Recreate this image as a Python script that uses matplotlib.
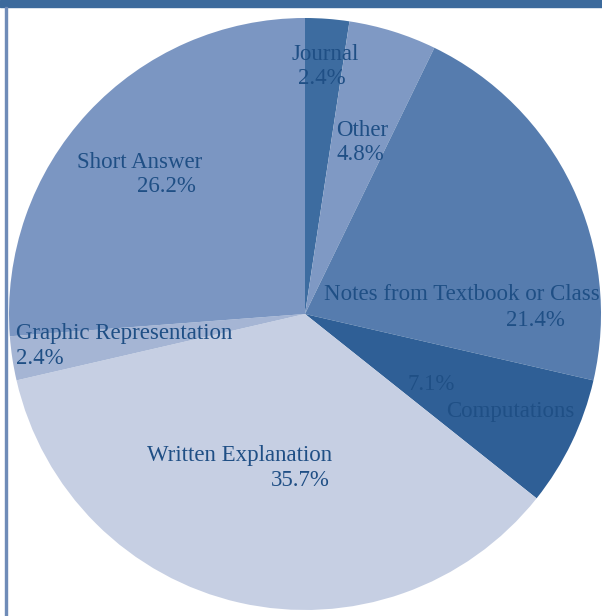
import matplotlib.pyplot as plt
from matplotlib.patches import Rectangle

# slices clockwise from 12 o'clock
labels = ['Journal', 'Other', 'Notes from Textbook or Class', 'Computations',
          'Written Explanation', 'Graphic Representation', 'Short Answer']
shares = [2.4, 4.8, 21.4, 7.1, 35.7, 2.4, 26.2]
colors = ['#3d6ca0', '#7f99c4', '#567cae', '#2f5f96', '#c6cfe3', '#a5b5d4', '#7b96c2']

W, H = 602, 616
txt_color = '#1f4f85'

fig = plt.figure(figsize=(W / 100, H / 100), dpi=100)
ax = fig.add_axes([0, 0, 1, 1])

ax.pie(shares, colors=colors, startangle=90, counterclock=False,
       center=(305, H - 314), radius=296, wedgeprops=dict(linewidth=0))
ax.set_xlim(0, W)
ax.set_ylim(0, H)
ax.set_aspect('equal')
ax.axis('off')

# frame bits: top bar and thin left border
ax.add_patch(Rectangle((0, H - 7), W, 7, color='#3c6a9c', zorder=5, clip_on=False))
ax.add_patch(Rectangle((5, 0), 1.5, H - 7, color='#6f8cb8', zorder=5, clip_on=False))

font = dict(family='Liberation Serif', fontsize=16.5, color=txt_color)

def put(x, y, s, ha='center'):
    ax.text(x, H - y, s, ha=ha, va='center', **font)

put(325, 54, 'Journal')
put(322, 78, '2.4%')
put(362, 130, 'Other')
put(360, 155, '4.8%')
put(140, 162, 'Short Answer')
put(166, 187, '26.2%')
put(462, 295, 'Notes from Textbook or Class')
put(535, 321, '21.4%')
put(16, 333, 'Graphic Representation', ha='left')
put(16, 358, '2.4%', ha='left')
put(431, 384, '7.1%')
put(510, 412, 'Computations')
put(240, 455, 'Written Explanation')
put(300, 480, '35.7%')

fig.savefig('out.png', dpi=100)
